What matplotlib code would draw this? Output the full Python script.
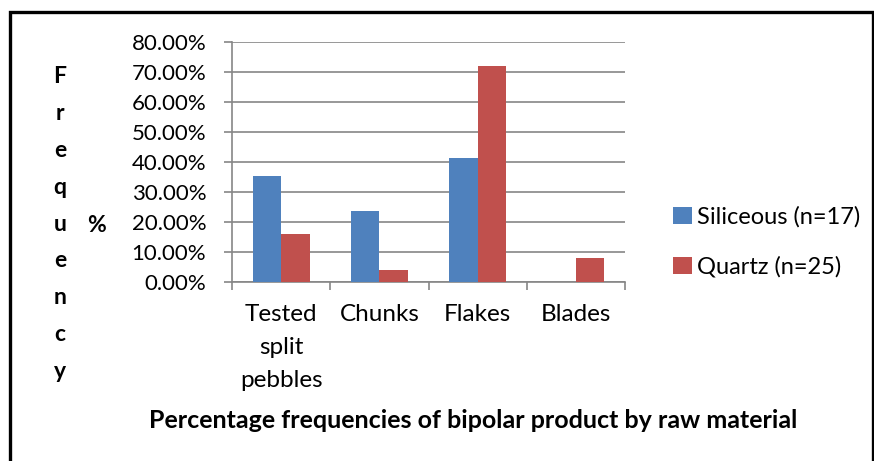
import numpy as np
import matplotlib
matplotlib.use('Agg')
import matplotlib.pyplot as plt
from matplotlib.patches import Rectangle

# data
categories = ['Tested\nsplit\npebbles', 'Chunks', 'Flakes', 'Blades']
siliceous = [35.29, 23.53, 41.18, 0.0]
quartz = [16.0, 4.0, 72.0, 8.0]
series_names = ['Siliceous (n=17)', 'Quartz (n=25)']
yticks = [0, 10, 20, 30, 40, 50, 60, 70, 80]

plt.rcParams['font.family'] = ['Lato', 'DejaVu Sans']

W, H = 874, 461
fig = plt.figure(figsize=(W / 100, H / 100), dpi=100)

# plot area in pixels
x0, x1, ytop, ybot = 232, 625, 42, 282
ax = fig.add_axes([x0 / W, (H - ybot) / H, (x1 - x0) / W, (ybot - ytop) / H])

x = np.arange(len(categories))
bw = 0.29
ax.bar(x - bw / 2, siliceous, bw, color='#4F81BD', label=series_names[0], zorder=3)
ax.bar(x + bw / 2, quartz, bw, color='#C0504D', label=series_names[1], zorder=3)

ax.set_xlim(-0.5, len(categories) - 0.5)
ax.set_ylim(0, 80)
ax.set_yticks(yticks)
ax.set_yticklabels(['%.2f%%' % v for v in yticks], fontsize=16)
ax.yaxis.grid(True, color='#868686', linewidth=1.2, zorder=0)
ax.tick_params(axis='y', length=5.5, width=1.2, color='#868686', pad=13)

ax.set_xticks(np.arange(len(categories) + 1) - 0.5)
ax.set_xticklabels([])
ax.tick_params(axis='x', length=5.5, width=1.2, color='#868686')
ax.set_xticks(x, minor=True)
ax.set_xticklabels(categories, minor=True, fontsize=17.5, linespacing=1.7)
ax.tick_params(axis='x', which='minor', length=0, pad=16)

for s in ['top', 'right']:
    ax.spines[s].set_visible(False)
for s in ['left', 'bottom']:
    ax.spines[s].set_color('#868686')
    ax.spines[s].set_linewidth(1.2)

leg = ax.legend(loc='center left', bbox_to_anchor=(652 / W, (H - 242) / H),
                bbox_transform=fig.transFigure, frameon=False, fontsize=17,
                handlelength=0.8, handleheight=0.75, handletextpad=0.2,
                labelspacing=1.2)

# vertical letter label and %
fig.text(60 / W, (H - 224) / H, 'F\nr\ne\nq\nu\ne\nn\nc\ny', ha='center', va='center',
         fontsize=16.5, fontweight='bold', linespacing=1.93)
fig.text(97 / W, (H - 225) / H, '%', ha='center', va='center', fontsize=16.5, fontweight='bold')

fig.text(473 / W, (H - 420) / H, 'Percentage frequencies of bipolar product by raw material',
         ha='center', va='center', fontsize=18, fontweight='bold')

# outer border
fig.patches.append(Rectangle((10 / W, -0.1), (873 - 10) / W, (H - 12) / H + 0.1,
                             transform=fig.transFigure, fill=False, edgecolor='black',
                             linewidth=2.4))

fig.savefig('out.png', dpi=100)
